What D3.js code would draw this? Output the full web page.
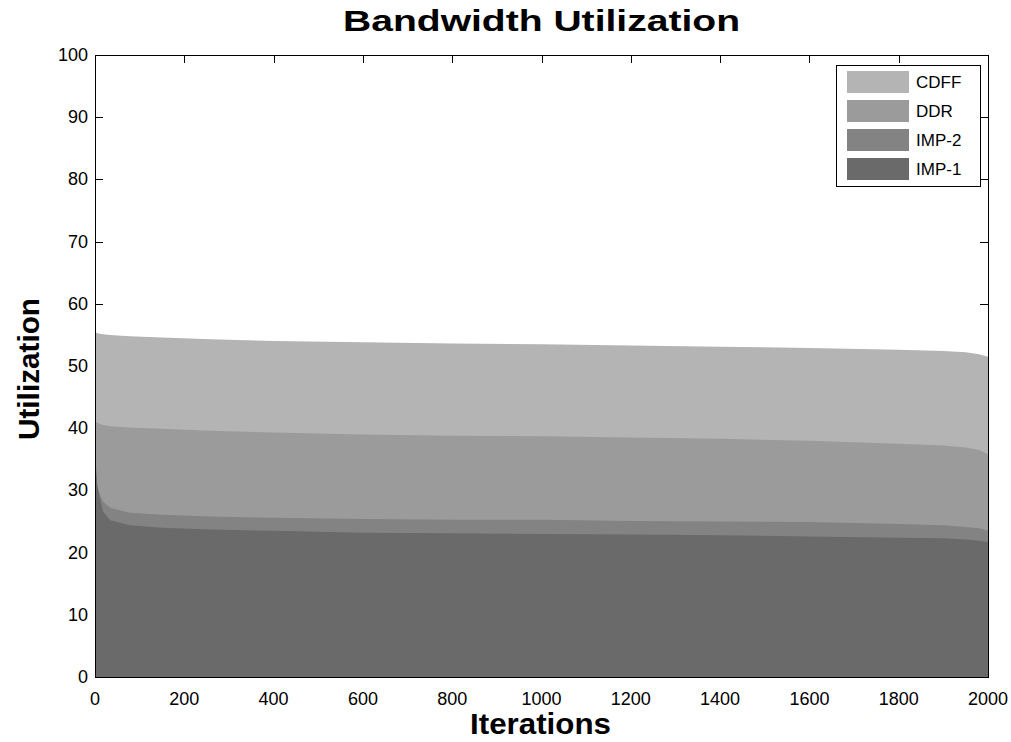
<!DOCTYPE html>
<html>
<head>
<meta charset="utf-8">
<script src="https://cdn.jsdelivr.net/npm/d3@7"></script>
<style>
  body { margin: 0; background: #fff; }
  text { font-family: "Liberation Sans", Arial, sans-serif; fill: #000; }
</style>
</head>
<body>
<div id="vis"></div>
<script>
// data
var iterations = [0, 2, 5, 10, 18, 34, 78, 150, 258, 400, 600, 800, 1000, 1200, 1400, 1600, 1800, 1900, 1950, 1980, 2000];
var cdff = [55.8, 55.4, 55.3, 55.2, 55.1, 55.0, 54.8, 54.6, 54.3, 54.0, 53.8, 53.6, 53.5, 53.3, 53.1, 52.9, 52.6, 52.4, 52.2, 51.9, 51.5];
var ddr  = [41.6, 41.0, 40.9, 40.7, 40.5, 40.3, 40.1, 39.9, 39.6, 39.3, 39.0, 38.8, 38.7, 38.5, 38.3, 38.0, 37.5, 37.2, 36.9, 36.5, 35.8];
var imp2 = [30.8, 30.6, 30.2, 29.6, 28.2, 27.2, 26.4, 26.1, 25.8, 25.6, 25.4, 25.3, 25.3, 25.1, 25.0, 24.9, 24.6, 24.4, 24.1, 23.9, 23.5];
var imp1 = [40.0, 34.0, 31.0, 29.0, 26.6, 25.2, 24.4, 24.0, 23.7, 23.5, 23.2, 23.1, 23.0, 22.9, 22.8, 22.6, 22.4, 22.3, 22.1, 21.9, 21.7];

var seriesNames = ['CDFF', 'DDR', 'IMP-2', 'IMP-1'];
var seriesValues = [cdff, ddr, imp2, imp1];
var seriesColors = ['#b4b4b4', '#9b9b9b', '#838383', '#6a6a6a'];

var xTicks = [0, 200, 400, 600, 800, 1000, 1200, 1400, 1600, 1800, 2000];
var yTicks = [0, 10, 20, 30, 40, 50, 60, 70, 80, 90, 100];

(function() {
  var width = 1011, height = 742;
  // plot box in pixels
  var plotL = 95, plotR = 988, plotT = 55, plotB = 677;
  var tickLen = 8;

  var svg = d3.select('#vis').append('svg')
    .attr('width', width)
    .attr('height', height);

  svg.append('rect').attr('width', width).attr('height', height).attr('fill', '#fff');

  var x = d3.scaleLinear().domain([0, 2000]).range([plotL, plotR]);
  var y = d3.scaleLinear().domain([0, 100]).range([plotB, plotT]);

  // ticks go under the areas (matlab layer bottom)
  var ticks = svg.append('g').attr('stroke', '#000').attr('stroke-width', 1);
  xTicks.forEach(function(t) {
    var px = Math.round(x(t)) + 0.5;
    ticks.append('line').attr('x1', px).attr('x2', px).attr('y1', plotB).attr('y2', plotB - tickLen);
    ticks.append('line').attr('x1', px).attr('x2', px).attr('y1', plotT).attr('y2', plotT + tickLen);
  });
  yTicks.forEach(function(t) {
    var py = Math.round(y(t)) + 0.5;
    ticks.append('line').attr('x1', plotL).attr('x2', plotL + tickLen).attr('y1', py).attr('y2', py);
    ticks.append('line').attr('x1', plotR).attr('x2', plotR - tickLen).attr('y1', py).attr('y2', py);
  });

  // overlapping areas, biggest first
  var area = d3.area()
    .x(function(d) { return x(d[0]); })
    .y0(y(0))
    .y1(function(d) { return y(d[1]); });

  seriesValues.forEach(function(vals, i) {
    var pts = iterations.map(function(it, j) { return [it, vals[j]]; });
    svg.append('path')
      .datum(pts)
      .attr('d', area)
      .attr('fill', seriesColors[i]);
  });

  // axes box
  svg.append('rect')
    .attr('x', plotL + 0.5).attr('y', plotT + 0.5)
    .attr('width', plotR - plotL).attr('height', plotB - plotT)
    .attr('fill', 'none').attr('stroke', '#000').attr('stroke-width', 1);

  // tick labels
  svg.append('g').selectAll('text').data(xTicks).enter().append('text')
    .attr('x', function(d) { return x(d); })
    .attr('y', 705)
    .attr('text-anchor', 'middle')
    .style('font-size', '18px')
    .text(function(d) { return d; });

  svg.append('g').selectAll('text').data(yTicks).enter().append('text')
    .attr('x', 88)
    .attr('y', function(d) { return y(d) + 6; })
    .attr('text-anchor', 'end')
    .style('font-size', '18px')
    .text(function(d) { return d; });

  // titles
  svg.append('text')
    .attr('x', 343).attr('y', 31)
    .attr('textLength', 397).attr('lengthAdjust', 'spacingAndGlyphs')
    .style('font-size', '29px').style('font-weight', 'bold')
    .text('Bandwidth Utilization');

  svg.append('text')
    .attr('x', 470).attr('y', 734)
    .attr('textLength', 141).attr('lengthAdjust', 'spacingAndGlyphs')
    .style('font-size', '30px').style('font-weight', 'bold')
    .text('Iterations');

  svg.append('text')
    .attr('transform', 'translate(39,440) rotate(-90)')
    .attr('textLength', 142).attr('lengthAdjust', 'spacingAndGlyphs')
    .style('font-size', '30px').style('font-weight', 'bold')
    .text('Utilization');

  // legend
  var legend = svg.append('g');
  legend.append('rect')
    .attr('x', 836.5).attr('y', 65.5).attr('width', 144).attr('height', 121)
    .attr('fill', '#fff').attr('stroke', '#000').attr('stroke-width', 1);

  seriesNames.forEach(function(name, i) {
    var ry = 71 + i * 29;
    legend.append('rect')
      .attr('x', 847).attr('y', ry).attr('width', 62).attr('height', 22)
      .attr('fill', seriesColors[i]);
    legend.append('text')
      .attr('x', 916).attr('y', ry + 17)
      .style('font-size', '17px')
      .text(name);
  });
})();
</script>
</body>
</html>
